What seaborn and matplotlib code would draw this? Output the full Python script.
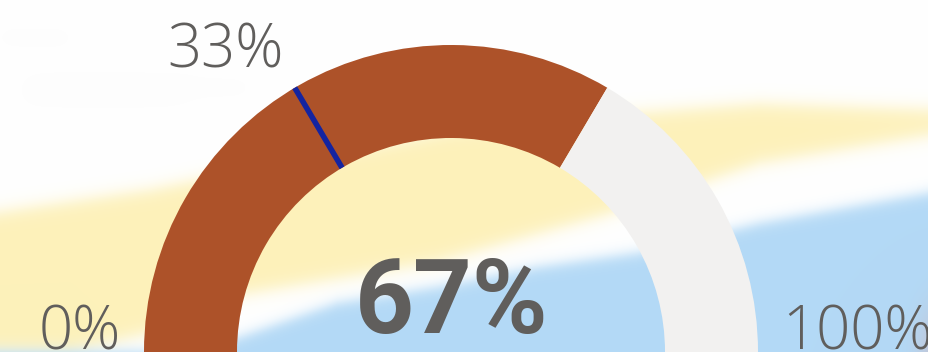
import numpy as np
import pandas as pd
import matplotlib
matplotlib.use("Agg")
import matplotlib.pyplot as plt
import seaborn as sns

# Gauge values (percent)
gauge_min = 0
gauge_max = 100
gauge_value = 67
gauge_target = 33
label_min = "0%"
label_max = "100%"
label_target = "33%"
label_value = "67%"

# Colours
fill_color = "#AD5229"
track_color = "#F2F1F0"
target_color = "#1424A0"
text_color = "#605E5C"

W, H = 929, 352

sns.set_theme(style="white")
plt.rcParams["font.family"] = ["Open Sans", "DejaVu Sans"]

fig = plt.figure(figsize=(W / 100, H / 100), dpi=100)
ax = fig.add_axes([0, 0, 1, 1])

# ---- soft photographic backdrop: white sky, yellow sweep, white streak, blue sweep
xs = np.arange(W) + 0.5
ys = np.arange(H) + 0.5
X, Y = np.meshgrid(xs, ys)


def edge(px, py):
    return np.interp(xs, px, py)[None, :]


def step(d, s):
    return 1.0 / (1.0 + np.exp(-d / s))


def soft_box(x0, x1, y0, y1, s):
    return step(X - x0, s) * step(x1 - X, s) * step(Y - y0, s) * step(y1 - Y, s)


yel_top = edge([0, 150, 300, 450, 650, 760, 929], [212, 190, 160, 130, 112, 104, 110])
yel_bot = edge([70, 150, 237, 437, 604, 760, 929], [352, 333, 295, 262, 215, 163, 135])
blu_top = edge([200, 237, 337, 437, 537, 637, 760, 929], [352, 338, 303, 287, 267, 253, 223, 193])

white = np.array([1.0, 1.0, 1.0])
haze = np.array([244, 244, 244]) / 255
yellow = np.array([253, 241, 186]) / 255
blue = np.array([179, 217, 246]) / 255
corner = np.array([196, 196, 212]) / 255

img = white[None, None, :] * np.ones((H, W, 1))
# faint grey smears in the sky
a_h = 0.22 * (soft_box(0, 70, 30, 45, 5) + soft_box(20, 185, 75, 105, 8)
              + soft_box(180, 250, 80, 95, 6))
a_h = np.clip(a_h, 0, 1)
img = img * (1 - a_h[..., None]) + haze * a_h[..., None]

a_y = step(Y - yel_top, 5) * (1 - step(Y - yel_bot, 5))
a_b = step(Y - blu_top, 4)
img = img * (1 - a_y[..., None]) + yellow * a_y[..., None]
img = img * (1 - a_b[..., None]) + blue * a_b[..., None]

a_c = np.exp(-(((X - 940) / 22) ** 2 + ((Y - 352) / 45) ** 2))
img = img * (1 - a_c[..., None]) + corner * a_c[..., None]
ax.imshow(img, extent=(0, W, 0, H), origin="upper", zorder=0, interpolation="bilinear")

# ---- gauge ring
cx, cy = 451, 0
r_out, r_in = 307, 214
span = gauge_max - gauge_min
ax.pie(
    [gauge_value - gauge_min, gauge_max - gauge_value, span],
    colors=[fill_color, track_color, (0, 0, 0, 0)],
    startangle=180,
    counterclock=False,
    radius=r_out,
    center=(cx, cy),
    wedgeprops=dict(width=r_out - r_in, linewidth=0),
    frame=True,
)

# ---- target marker
theta = np.deg2rad(180 - 180 * (gauge_target - gauge_min) / span)
needle = pd.DataFrame({
    "x": [cx + r_in * np.cos(theta), cx + r_out * np.cos(theta)],
    "y": [cy + r_in * np.sin(theta), cy + r_out * np.sin(theta)],
})
sns.lineplot(data=needle, x="x", y="y", sort=False, color=target_color,
             linewidth=4.0, ax=ax, zorder=5, solid_capstyle="butt")

# ---- labels
ax.text(226, H - 68, label_target, ha="center", va="baseline", fontsize=43,
        color=text_color, fontweight="light")
ax.text(80, H - 350, label_min, ha="center", va="baseline", fontsize=43,
        color=text_color, fontweight="light")
ax.text(782, H - 349, label_max, ha="left", va="baseline", fontsize=43,
        color=text_color, fontweight="light")
ax.text(452, H - 333, label_value, ha="center", va="baseline", fontsize=74,
        color=text_color, fontweight="bold", family=["Roboto", "DejaVu Sans"])

ax.set_xlim(0, W)
ax.set_ylim(0, H)
ax.set_aspect("auto")
ax.set_xlabel("")
ax.set_ylabel("")
ax.axis("off")

fig.savefig("out.png", dpi=100)
